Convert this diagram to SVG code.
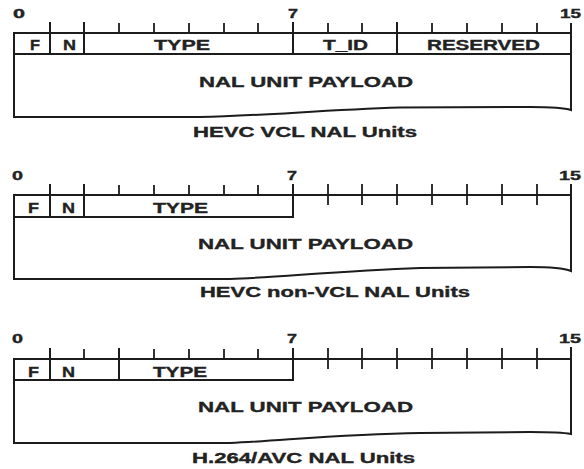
<svg xmlns="http://www.w3.org/2000/svg" width="584" height="469" viewBox="0 0 584 469">
<style>
.ln{stroke:#1c1c1c;stroke-width:2;fill:none;stroke-linecap:square}
.tk{stroke:#1c1c1c;stroke-width:1.8;fill:none}
.t{font-family:"Liberation Sans",Arial,sans-serif;font-weight:bold;fill:#222;stroke:#222;stroke-width:0.35}
.n{font-size:12px}
.h{font-size:14px}
.p{font-size:15px}
.c{font-size:14px}
</style>
<rect width="584" height="469" fill="#fff"/>

<!-- Diagram 1: HEVC VCL NAL Units -->
<g id="hevc-vcl">
  <g id="hevc-vcl-scale">
    <text class="t n" x="13" y="18" textLength="12" lengthAdjust="spacingAndGlyphs">0</text>
    <text class="t n" x="288" y="18" textLength="10" lengthAdjust="spacingAndGlyphs">7</text>
    <text class="t n" x="560" y="18" textLength="21" lengthAdjust="spacingAndGlyphs">15</text>
    <path class="tk" d="M119,23V33M154,23V33M189,23V33M224,23V33M258,23V33M328,23V33M362,23V33M432,23V33M467,23V33M502,23V33M537,23V33"/>
  </g>
  <g id="hevc-vcl-header">
    <path class="ln" d="M14,33H571M14,54H571M50,23V54M84,23V54M293,23V54M397,23V54"/>
    <text class="t h" x="30" y="50" textLength="10" lengthAdjust="spacingAndGlyphs">F</text>
    <text class="t h" x="63" y="50" textLength="13" lengthAdjust="spacingAndGlyphs">N</text>
    <text class="t h" x="154" y="50" textLength="56" lengthAdjust="spacingAndGlyphs">TYPE</text>
    <text class="t h" x="323" y="50" textLength="45" lengthAdjust="spacingAndGlyphs">T_ID</text>
    <text class="t h" x="427" y="50" textLength="113" lengthAdjust="spacingAndGlyphs">RESERVED</text>
  </g>
  <g id="hevc-vcl-payload">
    <path class="ln" d="M14,33V117L200,117C260,116 320,110 400,107.5L530,107C555,107 565,108 571,110V24"/>
    <text class="t p" x="199" y="87" textLength="214" lengthAdjust="spacingAndGlyphs">NAL UNIT PAYLOAD</text>
  </g>
  <text id="hevc-vcl-caption" class="t c" x="193" y="137" textLength="224" lengthAdjust="spacingAndGlyphs">HEVC VCL NAL Units</text>
</g>

<!-- Diagram 2: HEVC non-VCL NAL Units -->
<g id="hevc-nonvcl">
  <g id="hevc-nonvcl-scale">
    <text class="t n" x="12" y="180" textLength="11" lengthAdjust="spacingAndGlyphs">0</text>
    <text class="t n" x="287" y="180" textLength="10" lengthAdjust="spacingAndGlyphs">7</text>
    <text class="t n" x="559" y="180" textLength="22" lengthAdjust="spacingAndGlyphs">15</text>
    <path class="tk" d="M119,185V195M154,185V195M189,185V195M224,185V195M258,185V195"/>
    <path class="tk" d="M328,184V205M362,184V205M397,184V205M432,184V205M467,184V205M502,184V205M537,184V205"/>
  </g>
  <g id="hevc-nonvcl-header">
    <path class="ln" d="M14,195H571M14,217H293M50,185V217M84,185V217M293,185V217"/>
    <text class="t h" x="28" y="213" textLength="11" lengthAdjust="spacingAndGlyphs">F</text>
    <text class="t h" x="62" y="213" textLength="13" lengthAdjust="spacingAndGlyphs">N</text>
    <text class="t h" x="153" y="213" textLength="55" lengthAdjust="spacingAndGlyphs">TYPE</text>
  </g>
  <g id="hevc-nonvcl-payload">
    <path class="ln" d="M14,195V279L230,279C280,277 340,271 420,268L530,267C555,267 566,269 571,271V185"/>
    <text class="t p" x="198" y="249" textLength="215" lengthAdjust="spacingAndGlyphs">NAL UNIT PAYLOAD</text>
  </g>
  <text id="hevc-nonvcl-caption" class="t c" x="200" y="297" textLength="270" lengthAdjust="spacingAndGlyphs">HEVC non-VCL NAL Units</text>
</g>

<!-- Diagram 3: H.264/AVC NAL Units -->
<g id="avc">
  <g id="avc-scale">
    <text class="t n" x="12" y="343" textLength="11" lengthAdjust="spacingAndGlyphs">0</text>
    <text class="t n" x="287" y="343" textLength="10" lengthAdjust="spacingAndGlyphs">7</text>
    <text class="t n" x="559" y="343" textLength="22" lengthAdjust="spacingAndGlyphs">15</text>
    <path class="tk" d="M84,349V359M154,349V359M189,349V359M224,349V359M258,349V359"/>
    <path class="tk" d="M328,348V369M362,348V369M397,348V369M432,348V369M467,348V369M502,348V369M537,348V369"/>
  </g>
  <g id="avc-header">
    <path class="ln" d="M14,359H571M14,380H293M50,349V380M119,349V380M293,349V380"/>
    <text class="t h" x="28" y="377" textLength="11" lengthAdjust="spacingAndGlyphs">F</text>
    <text class="t h" x="62" y="377" textLength="13" lengthAdjust="spacingAndGlyphs">N</text>
    <text class="t h" x="153" y="377" textLength="54" lengthAdjust="spacingAndGlyphs">TYPE</text>
  </g>
  <g id="avc-payload">
    <path class="ln" d="M14,359V443L230,443C280,441 340,434 420,433L530,432C555,432 566,433 571,434V348"/>
    <text class="t p" x="198" y="412" textLength="215" lengthAdjust="spacingAndGlyphs">NAL UNIT PAYLOAD</text>
  </g>
  <text id="avc-caption" class="t c" x="192" y="463" textLength="223" lengthAdjust="spacingAndGlyphs">H.264/AVC NAL Units</text>
</g>
</svg>
